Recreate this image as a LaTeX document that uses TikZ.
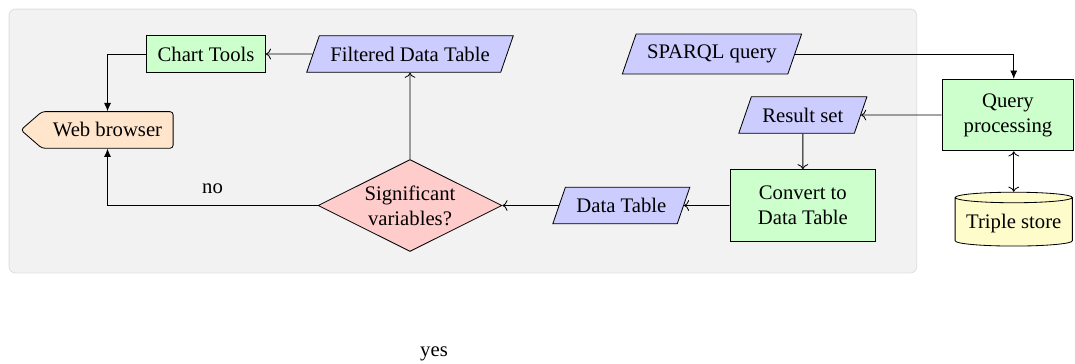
\documentclass[tikz,border=0pt]{standalone}
\usepackage{fontspec}
\setmainfont{Liberation Serif}
\usetikzlibrary{shapes.geometric, shapes.symbols, positioning, arrows.meta}

\begin{document}
\begin{tikzpicture}[
        on grid,
        proc/.style = {draw, fill=green!20, inner sep=5.3pt, align=center},
        bigproc/.style = {proc, minimum width=70.4pt, minimum height=34.6pt},
        io/.style = {draw, trapezium, trapezium left angle=71, trapezium right angle=109, fill=blue!20, inner sep=5.3pt},
        decision/.style = {draw, diamond, aspect=2, fill=red!20, inner sep=1.1pt, align=center},
        store/.style = {draw, cylinder, shape border rotate=90, aspect=0.09, fill=yellow!20, inner sep=5.3pt},
        screen/.style = {draw, signal, signal to=west, signal pointer angle=82, rounded corners=1.5pt, fill=orange!20, inner sep=5.3pt},
        note/.style = {inner sep=5.3pt}
       ]

        \useasboundingbox (-198.1pt,-76.1pt) rectangle (321.3pt,99.3pt);

        % Hintergrund (Client)
        \draw[gray!25, fill=gray!10, rounded corners=3pt] (-193.7pt,-32.6pt) rectangle (244.8pt,94.9pt);

        % Entscheidung
        \node[decision] (signif) at (0,0) {Significant\\variables?};

        % Linker Zweig
        \node[io, above=73.2pt of signif] (filtered) {Filtered Data Table};
        \node[proc, left=98.55pt of filtered] (charts) {Chart Tools};
        \node[screen, below left=36.7pt and 47.6pt of charts] (browser) {Web browser};

        % Rechter Zweig
        \node[io, right=102.1pt of signif] (table) {Data Table};
        \node[bigproc, right=87.7pt of table] (convert) {Convert to\\Data Table};
        \node[io, above=43.7pt of convert] (results) {Result set};
        \node[io, right=145.9pt of filtered] (sparql) {SPARQL query};

        % Server
        \node[bigproc, right=99.1pt of results, minimum width=63.6pt] (query) {Query\\processing};
        \node[store, below right=52.4pt and 2.8pt of query] (triple) {Triple store};

        \node[note, below right=71.5pt and 11.6pt of signif] (yes) {yes};

        % Pfeile
        \draw[-{Latex[length=4pt, width=3.4pt]}] (sparql) -| (triple.north |- query.north);
        \draw[->] (query) -- (results);
        \draw[<->] (triple.north |- query.south) -- (triple);
        \draw[->] (results) -- (convert);
        \draw[->] (convert) -- (table);
        \draw[->] (table) -- (signif);
        \draw[->] (signif) -- (filtered);
        \draw[->] (filtered) -- (charts);
        \draw[-{Latex[length=4pt, width=3.4pt]}] (charts) -| (browser);
        \draw[-{Latex[length=4pt, width=3.4pt]}] (signif) -| node[note, above, near start] {no} (browser);

\end{tikzpicture}
\end{document}
